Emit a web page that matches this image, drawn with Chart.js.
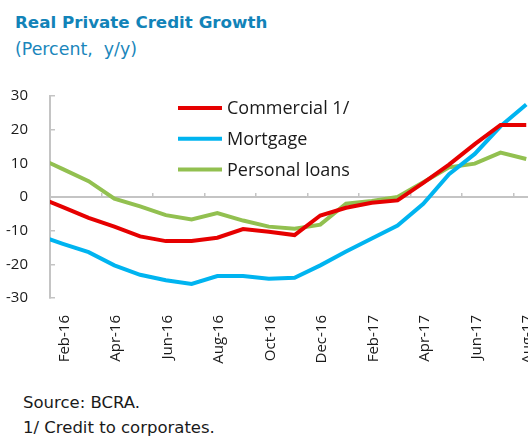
<!DOCTYPE html>
<html>
<head>
<meta charset="utf-8">
<script src="https://cdn.jsdelivr.net/npm/chart.js@4.4.1/dist/chart.umd.min.js"></script>
<style>
  html, body { margin: 0; padding: 0; background: #fff; overflow: hidden; }
  body { width: 528px; height: 436px; position: relative; font-family: "DejaVu Sans", sans-serif; }
  .title { position: absolute; left: 15px; top: 12px; font-size: 16.7px; line-height: 20px; font-weight: bold; color: #1283b8; white-space: nowrap; }
  .sub { position: absolute; left: 15px; top: 39px; font-size: 17.4px; line-height: 20px; color: #1a86bb; white-space: pre; }
  .note { position: absolute; left: 23px; font-size: 16.5px; line-height: 20px; color: #1a1a1a; white-space: nowrap; }
  #wrap { position: absolute; left: 0; top: 0; width: 564px; height: 380px; }
</style>
</head>
<body>
<div class="title">Real Private Credit Growth</div>
<div class="sub">(Percent,  y/y)</div>
<div id="wrap"><canvas id="chart"></canvas></div>
<div class="note" style="top:393px">Source: BCRA.</div>
<div class="note" style="top:418px">1/ Credit to corporates.</div>
<script>
// monthly, Jan-16 .. Aug-17 (Jan-16 sits just left of the axis and gets clipped)
const months = ['Jan-16', 'Feb-16', 'Mar-16', 'Apr-16', 'May-16', 'Jun-16', 'Jul-16', 'Aug-16', 'Sep-16', 'Oct-16',
                'Nov-16', 'Dec-16', 'Jan-17', 'Feb-17', 'Mar-17', 'Apr-17', 'May-17', 'Jun-17', 'Jul-17', 'Aug-17'];
const commercial = [0.1, -3.0, -6.2, -8.8, -11.7, -13.1, -13.1, -12.1, -9.5, -10.3,
                    -11.3, -5.5, -3.2, -1.7, -1.0, 4.2, 9.6, 15.7, 21.4, 21.4];
const mortgage = [-11.3, -13.9, -16.4, -20.3, -23.1, -24.7, -25.8, -23.5, -23.5, -24.3,
                  -24.0, -20.3, -16.2, -12.3, -8.5, -2.0, 6.8, 12.8, 21.0, 27.5];
const personal = [11.8, 8.3, 4.7, -0.5, -2.8, -5.4, -6.7, -4.8, -7.0, -8.8,
                  -9.4, -8.2, -2.0, -1.2, 0.0, 4.4, 8.8, 9.9, 13.2, 11.3];
const labelIdx = [1, 3, 5, 7, 9, 11, 13, 15, 17, 19];          // Feb-16, Apr-16, ...
const markIdx = [0.5, 2.5, 4.5, 6.5, 8.5, 10.5, 12.5, 14.5, 16.5, 18.5];
const yTicks = [-30, -20, -10, 0, 10, 20, 30];

const toPts = arr => arr.map((v, i) => ({x: i, y: v}));
const axisGray = '#c4c4c4';
const fontFam = '"Open Sans", sans-serif';

const lineLegend = {
  id: 'lineLegend',
  afterDraw(chart) {
    const ctx = chart.ctx;
    const a = chart.chartArea;
    ctx.save();
    chart.data.datasets.forEach((ds, i) => {
      const y = a.top + 12 + i * 30.8;
      const x = a.left + 128;
      ctx.strokeStyle = ds.borderColor;
      ctx.lineWidth = 4;
      ctx.beginPath();
      ctx.moveTo(x, y);
      ctx.lineTo(x + 44, y);
      ctx.stroke();
      ctx.fillStyle = '#1a1a1a';
      ctx.font = '18px ' + fontFam;
      ctx.textBaseline = 'middle';
      ctx.fillText(ds.label, x + 49, y + 1);
    });
    ctx.restore();
  }
};

new Chart(document.getElementById('chart'), {
  type: 'line',
  data: {
    datasets: [
      {label: 'Commercial 1/', data: toPts(commercial), borderColor: '#e60000', borderWidth: 4},
      {label: 'Mortgage', data: toPts(mortgage), borderColor: '#00b4f0', borderWidth: 4},
      {label: 'Personal loans', data: toPts(personal), borderColor: '#92c050', borderWidth: 4}
    ]
  },
  options: {
    responsive: true,
    maintainAspectRatio: false,
    animation: false,
    layout: {padding: {top: 96, right: 12, left: 0, bottom: 0}},
    elements: {point: {radius: 0}, line: {tension: 0}},
    datasets: {line: {clip: 0}},
    plugins: {legend: {display: false}, tooltip: {enabled: false}},
    scales: {
      x: {
        type: 'linear', min: 0.5, max: 20,
        afterBuildTicks: s => { s.ticks = labelIdx.map(v => ({value: v})); },
        afterFit: s => { s.height = 82; },
        grid: {display: false, drawTicks: false},
        border: {display: false},
        ticks: {
          autoSkip: false, minRotation: 90, maxRotation: 90, padding: 17, labelOffset: 1.5,
          color: '#1a1a1a', font: {size: 15, family: fontFam},
          callback: v => months[v]
        }
      },
      xt: {
        type: 'linear', axis: 'x', min: 0.5, max: 20, position: {y: 0},
        afterBuildTicks: s => { s.ticks = markIdx.map(v => ({value: v})); },
        grid: {drawOnChartArea: false, tickLength: -5, color: axisGray, lineWidth: 1.5},
        border: {color: axisGray, width: 2},
        ticks: {display: false}
      },
      y: {
        min: -30, max: 30,
        afterBuildTicks: s => { s.ticks = yTicks.map(v => ({value: v})); },
        afterFit: s => { s.width = 50; },
        grid: {drawOnChartArea: false, tickLength: -5, color: axisGray, lineWidth: 1.5},
        border: {color: axisGray, width: 2},
        ticks: {padding: 27, color: '#1a1a1a', font: {size: 15, family: fontFam}}
      }
    }
  },
  plugins: [lineLegend]
});
</script>
</body>
</html>
